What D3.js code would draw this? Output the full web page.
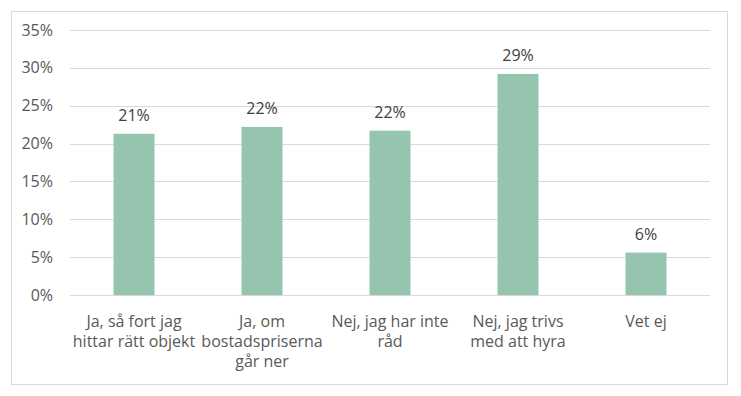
<!DOCTYPE html>
<html><head><meta charset="utf-8">
<script src="https://cdn.jsdelivr.net/npm/d3@7"></script>
<style>html,body{margin:0;padding:0;background:#fff;}svg{display:block;}</style>
</head><body>
<svg id="chart" width="741" height="396"></svg>
<script>
const categories = [
  ["Ja, så fort jag", "hittar rätt objekt"],
  ["Ja, om", "bostadspriserna", "går ner"],
  ["Nej, jag har inte", "råd"],
  ["Nej, jag trivs", "med att hyra"],
  ["Vet ej"]
];
const values = [21.3, 22.2, 21.7, 29.2, 5.6];
const valueLabels = ["21%", "22%", "22%", "29%", "6%"];
const yTicks = [0, 5, 10, 15, 20, 25, 30, 35];

const svg = d3.select("#chart");
const font = "'Open Sans', sans-serif";
const fs = 16;

svg.append("rect").attr("x", 11.5).attr("y", 11.5).attr("width", 716).attr("height", 373)
  .attr("fill", "#fff").attr("stroke", "#d9d9d9").attr("stroke-width", 1);

const x = d3.scaleBand().domain(d3.range(categories.length)).range([70, 710])
  .paddingInner(0.68).paddingOuter(0.34);
const y = d3.scaleLinear().domain([0, 35]).range([295, 30]);

const yAxis = svg.append("g").attr("transform", "translate(70,0)")
  .call(d3.axisLeft(y).tickValues(yTicks).tickFormat(d => d + "%").tickSize(-640).tickPadding(17));
yAxis.select(".domain").remove();
yAxis.selectAll(".tick line").attr("stroke", "#d9d9d9").attr("stroke-width", 1)
  .attr("shape-rendering", "crispEdges");
yAxis.selectAll(".tick text").attr("fill", "#595959").style("font-family", font).style("font-size", fs + "px");

svg.append("g").selectAll("rect").data(values).join("rect")
  .attr("x", (d, i) => x(i)).attr("width", x.bandwidth())
  .attr("y", d => y(d)).attr("height", d => y(0) - y(d))
  .attr("fill", "#95c4af");

svg.append("g").selectAll("text").data(values).join("text")
  .attr("x", (d, i) => x(i) + x.bandwidth() / 2).attr("y", d => y(d) - 12.5)
  .attr("text-anchor", "middle").attr("fill", "#404040")
  .style("font-family", font).style("font-size", fs + "px")
  .text((d, i) => valueLabels[i]);

const cat = svg.append("g").selectAll("text").data(categories).join("text")
  .attr("x", (d, i) => x(i) + x.bandwidth() / 2).attr("y", 326.5)
  .attr("text-anchor", "middle").attr("fill", "#595959")
  .style("font-family", font).style("font-size", fs + "px");
cat.selectAll("tspan").data(d => d).join("tspan")
  .attr("x", function() { return d3.select(this.parentNode).attr("x"); })
  .attr("dy", (d, j) => j === 0 ? 0 : 20)
  .text(d => d);
</script>
</body></html>
